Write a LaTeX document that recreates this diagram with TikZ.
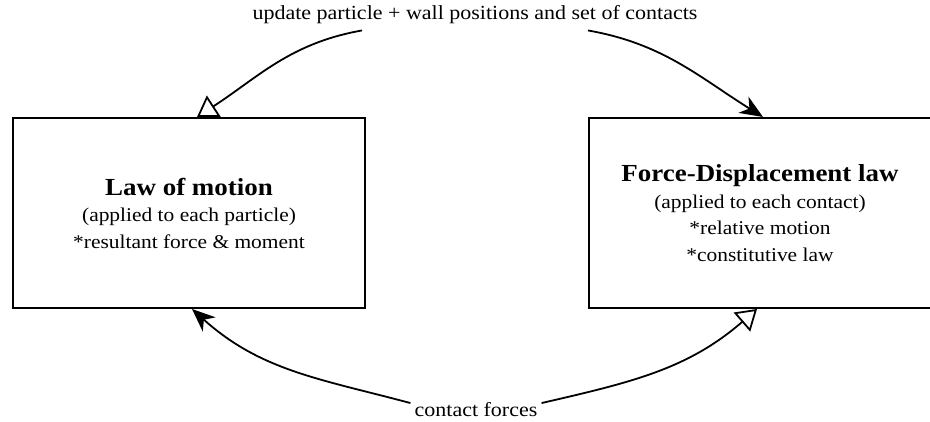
\documentclass[tikz,border=0pt]{standalone}
\usepackage{fontspec}
\setmainfont[FakeStretch=1.1]{Liberation Serif}
\usetikzlibrary{arrows.meta}

\begin{document}
\begin{tikzpicture}[x=1pt, y=1pt,
		box/.style={draw, line width=2pt, minimum height=190pt, align=center, font=\fontsize{19.5}{26.5}\selectfont},
		lbl/.style={anchor=base, font=\fontsize{20}{24}\selectfont},
		flow/.style={line width=1.8pt},
		tipopen/.style={-{Triangle[open, length=20pt, width=25pt]}},
		tipfull/.style={-{Stealth[length=23pt, width=19pt, inset=7pt]}}]
			\useasboundingbox (0,0) rectangle (930,421);
			\node[box, minimum width=352pt] (Motion) at (189,208) {{\fontsize{24.5}{26.5}\selectfont\bfseries Law of motion}\\(applied to each particle)\\{}*resultant force \& moment};
			\node[box, minimum width=342pt] (ForceDisp) at (760,208) {{\fontsize{24.5}{26.5}\selectfont\bfseries Force-Displacement law}\\(applied to each contact)\\{}*relative motion\\{}*constitutive law};
			\node[lbl, inner sep=6pt] (Update) at (475,401) {update particle + wall positions and set of contacts};
			\node[lbl, inner sep=4pt] (Forces) at (476,5) {contact forces};
			% top loop
			\draw[flow, tipopen] ([xshift=-113pt]Update.south) to[out=190, in=33] ([xshift=8pt]Motion.north);
			\draw[flow, tipfull] ([xshift=113pt]Update.south) to[out=-10, in=148] ([xshift=3pt]ForceDisp.north);
			% bottom loop
			\draw[flow, tipfull] ([yshift=6pt]Forces.west) to[out=165, in=-42] ([xshift=3pt]Motion.south);
			\draw[flow, tipopen] ([yshift=6pt]Forces.east) to[out=13, in=-139] ([xshift=-3pt]ForceDisp.south);
		\end{tikzpicture}
\end{document}
